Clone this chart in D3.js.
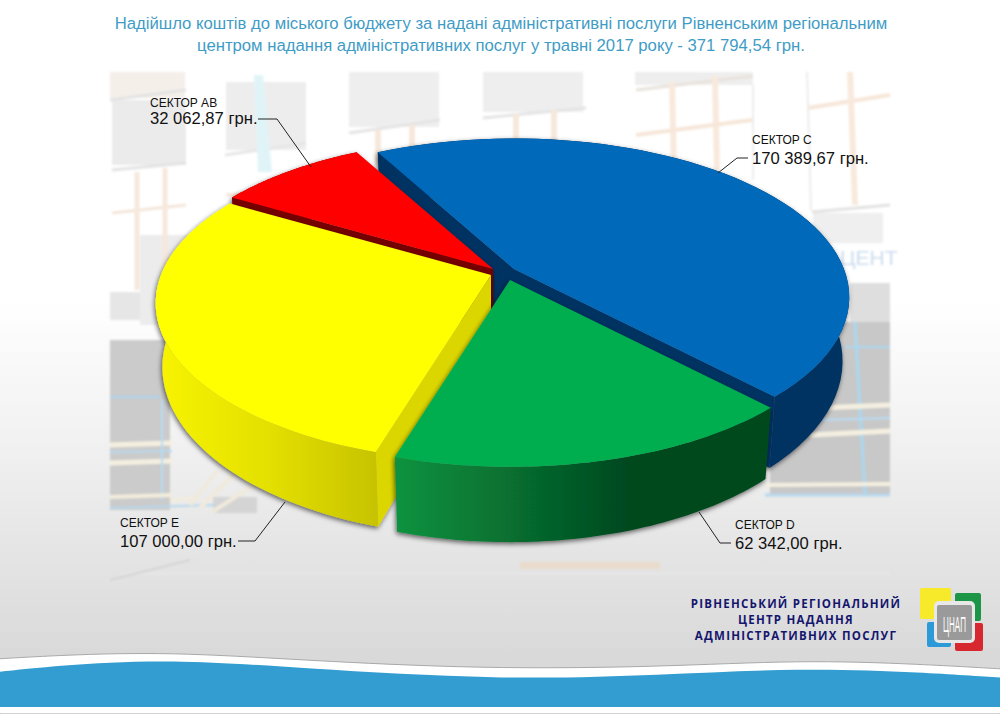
<!DOCTYPE html>
<html>
<head>
<meta charset="utf-8">
<script src="https://cdnjs.cloudflare.com/ajax/libs/d3/7.8.5/d3.min.js"></script>
<style>
  html, body { margin: 0; padding: 0; background: #fff; }
  svg { display: block; font-family: "Liberation Sans", Arial, sans-serif; }
</style>
</head>
<body>
<div id="chart"></div>
<script>
// chart values, clockwise from the back of the pie
var sectors = ["СЕКТОР C", "СЕКТОР D", "СЕКТОР E", "СЕКТОР AB"];
var amounts = [170389.67, 62342.00, 107000.00, 32062.87];
var amountLabels = ["170 389,67 грн.", "62 342,00 грн.", "107 000,00 грн.", "32 062,87 грн."];
var titleLines = [
  "Надійшло коштів до міського бюджету за надані адміністративні послуги Рівненським регіональним",
  "центром надання адміністративних послуг у травні 2017 року - 371 794,54 грн."
];
var orgLines = ["РІВНЕНСЬКИЙ РЕГІОНАЛЬНИЙ", "ЦЕНТР НАДАННЯ", "АДМІНІСТРАТИВНИХ ПОСЛУГ"];

var svgWidth = 1000;
var svgHeight = 714;

// look of each slice, same order as sectors
var topColors = ["#0069b9", "#00ae50", "#ffff00", "#ff0000"];
var wallColors = ["#003262", "#03481f", "#dcd600", "#760000"];
var apexes = [[514, 269], [510, 280], [491, 275], [493, 269]];
var drawOrder = [0, 3, 2, 1];

// where each label sits: [text x, name baseline, value baseline] and leader line
var labelPos = [[752, 144, 164], [735, 529, 549], [120, 527, 547], [150, 107, 124]];
var leaders = [
  [[748, 158], [737, 158], [718, 173]],
  [[731, 543], [720, 543], [699, 512]],
  [[238, 541], [255, 541], [285, 502]],
  [[258, 119], [277, 119], [311, 167]]
];

var svg = d3.select("#chart").append("svg")
  .attr("width", svgWidth)
  .attr("height", svgHeight);

var defs = svg.append("defs");

function addGradient(id, x1, y1, x2, y2, stops) {
  var g = defs.append("linearGradient").attr("id", id)
    .attr("gradientUnits", "userSpaceOnUse")
    .attr("x1", x1).attr("y1", y1).attr("x2", x2).attr("y2", y2);
  stops.forEach(function(s) {
    g.append("stop").attr("offset", s[0]).attr("stop-color", s[1]);
  });
}

addGradient("pageBg", 0, 0, 0, 714, [[0, "#ffffff"], [0.42, "#ffffff"], [0.62, "#f1f1f1"], [0.92, "#d9d9d9"]]);
addGradient("greenWall", 398, 0, 770, 0, [[0, "#0b923f"], [0.3, "#076f30"], [0.62, "#03481f"], [1, "#03491f"]]);
addGradient("yellowWall", 155, 0, 380, 0, [[0, "#f8f400"], [0.5, "#e4e000"], [1, "#c6c200"]]);

var shadow = defs.append("filter").attr("id", "pieShadow")
  .attr("x", "-10%").attr("y", "-10%").attr("width", "120%").attr("height", "120%");
shadow.append("feDropShadow")
  .attr("dx", -1).attr("dy", 2).attr("stdDeviation", 2.5)
  .attr("flood-color", "#000").attr("flood-opacity", 0.6);

var soft = defs.append("filter").attr("id", "soft");
soft.append("feGaussianBlur").attr("stdDeviation", 0.8);

// page
svg.append("rect").attr("width", svgWidth).attr("height", svgHeight).attr("fill", "url(#pageBg)");

// faded photo of the building behind the pie
var photo = svg.append("g").attr("filter", "url(#soft)");

var panes = [
  [110, 72, 75, 26, "#f4efe9"], [112, 100, 74, 65, "#ebebeb"], [226, 82, 80, 68, "#ededed"],
  [349, 72, 90, 55, "#eeeeee"], [483, 72, 100, 40, "#eeeeee"], [635, 72, 118, 13, "#eeeeee"],
  [813, 213, 70, 30, "#efefef"], [850, 283, 40, 40, "#dedede"], [110, 292, 32, 28, "#e6e6e6"],
  [140, 235, 60, 90, "#ececec"], [110, 340, 60, 170, "#cbcbcb"], [770, 322, 120, 173, "#c8c8c8"],
  [213, 497, 44, 16, "#d4d4d4"], [120, 535, 770, 6, "#e6e6e6"], [300, 552, 590, 5, "#e4e4e4"],
  [520, 562, 140, 7, "#eadcCc"], [120, 572, 770, 3, "#e6e6e6"]
];
photo.selectAll("rect.pane").data(panes).enter().append("rect")
  .attr("class", "pane")
  .attr("x", function(d) { return d[0]; })
  .attr("y", function(d) { return d[1]; })
  .attr("width", function(d) { return d[2]; })
  .attr("height", function(d) { return d[3]; })
  .attr("fill", function(d) { return d[4]; });

var frames = [
  // first column of windows
  [110, 100, 186, 90, "#e3e3e3", 3], [112, 170, 186, 163, "#e3e3e3", 3], [112, 213, 186, 205, "#f4e6da", 3],
  [137, 172, 137, 290, "#f6e8dc", 5], [165, 168, 165, 290, "#f6e8dc", 5],
  // second and third
  [225, 155, 306, 143, "#e6e6e6", 3], [226, 195, 306, 188, "#f4e6da", 3], [349, 133, 440, 120, "#e4e4e4", 3],
  [378, 130, 378, 165, "#f6e8dc", 6], [412, 125, 412, 165, "#f6e8dc", 6],
  // fourth
  [483, 118, 586, 108, "#e4e4e4", 3], [516, 114, 516, 150, "#f6e8dc", 6], [554, 110, 554, 145, "#f6e8dc", 6],
  // fifth and sixth
  [636, 90, 753, 76, "#e8e2dc", 3], [672, 82, 674, 170, "#f8e9dc", 6], [715, 76, 717, 170, "#f8e9dc", 6],
  [636, 135, 752, 120, "#f6e6d8", 4], [808, 108, 890, 95, "#f6e6d8", 4], [850, 72, 855, 205, "#f8e9dc", 6],
  [812, 212, 890, 205, "#e2e2e2", 3], [807, 72, 811, 210, "#ececec", 2], [753, 85, 753, 180, "#ececec", 2],
  // bottom left, rails and stairs
  [110, 397, 160, 397, "#a9d3ec", 2], [110, 445, 172, 443, "#f4efe0", 5], [110, 463, 172, 461, "#f4efe0", 5],
  [110, 452, 172, 451, "#b8d8ec", 2], [162, 400, 162, 500, "#b6dcf2", 2], [110, 497, 172, 495, "#f2ecdc", 4],
  [110, 508, 215, 505, "#b8d8ec", 2], [170, 500, 200, 498, "#f2ecdc", 3], [190, 505, 218, 470, "#f0eadc", 4],
  [200, 508, 240, 468, "#f0eadc", 4], [212, 512, 262, 480, "#f0eadc", 4], [110, 580, 190, 560, "#d4d4d4", 2],
  // bottom right
  [855, 322, 865, 495, "#a8d8f0", 3], [845, 347, 890, 347, "#a8d8f0", 2], [820, 408, 890, 405, "#f4efe0", 5],
  [820, 420, 890, 418, "#b6dcf2", 2], [810, 435, 890, 431, "#f4efe0", 5], [765, 485, 890, 484, "#f4efe0", 4],
  [765, 495, 890, 495, "#b8d8ec", 3]
];
photo.selectAll("line.frame").data(frames).enter().append("line")
  .attr("class", "frame")
  .attr("x1", function(d) { return d[0]; })
  .attr("y1", function(d) { return d[1]; })
  .attr("x2", function(d) { return d[2]; })
  .attr("y2", function(d) { return d[3]; })
  .attr("stroke", function(d) { return d[4]; })
  .attr("stroke-width", function(d) { return d[5]; });

photo.append("path")
  .attr("d", "M254 75 L263 75 L272 172 L258 172 Z")
  .attr("fill", "#e0f4f8");
photo.append("text")
  .attr("x", 840).attr("y", 265)
  .attr("font-size", 21).attr("fill", "#cbdcee")
  .text("ЦЕНТ");

// pie, drawn with a small perspective so the front looks bigger than the back
var radius = 335;
var radiusY = 156;
var tilt = 0.18;
var depth = 62;
var degrees = Math.PI / 180;

var pie = d3.pie().sort(null)
  .startAngle(-28.5 * degrees)
  .endAngle(331.5 * degrees);
var slices = pie(amounts);

function project(i, angle, r, bottom) {
  var u = r * Math.sin(angle);
  var v = -r * Math.cos(angle);
  var s = 1 / (1 - tilt * v);
  var apex = apexes[i];
  return [
    apex[0] + radius * u * s * (bottom ? 0.98 : 1),
    apex[1] + radiusY * v * s + (bottom ? depth * s : 0)
  ];
}

var line = d3.line();

function arcPoints(i, from, to, bottom) {
  return d3.range(0, 61).map(function(k) {
    return project(i, from + (to - from) * k / 60, 0.985, bottom);
  });
}

var sliceGroups = svg.append("g").selectAll("g")
  .data(drawOrder)
  .enter().append("g")
  .attr("filter", "url(#pieShadow)")
  .each(function(i) {
    var g = d3.select(this);
    var d = slices[i];
    var wallFill = i == 1 ? "url(#greenWall)" : i == 2 ? "url(#yellowWall)" : wallColors[i];

    // rim of the slice
    var rim = arcPoints(i, d.startAngle, d.endAngle, false)
      .concat(arcPoints(i, d.endAngle, d.startAngle, true));
    g.append("path").attr("d", line(rim) + "Z").attr("fill", wallFill);

    // cut faces, only the ones turned to the viewer
    [[d.startAngle, Math.sin(d.startAngle) < 0], [d.endAngle, Math.sin(d.endAngle) > 0]].forEach(function(f) {
      if (!f[1]) return;
      var face = [
        project(i, f[0], 0, false),
        project(i, f[0], 0.985, false),
        project(i, f[0], 0.985, true),
        project(i, f[0], 0, true)
      ];
      g.append("path").attr("d", line(face) + "Z").attr("fill", wallColors[i]);
    });

    // top
    var top = [project(i, 0, 0, false)].concat(arcPoints(i, d.startAngle, d.endAngle, false));
    g.append("path").attr("d", line(top) + "Z").attr("fill", topColors[i]);
  });

// labels
var labels = svg.append("g").selectAll("g")
  .data(sectors)
  .enter().append("g");

labels.append("path")
  .attr("d", function(d, i) { return line(leaders[i]); })
  .attr("fill", "none")
  .attr("stroke", "#222")
  .attr("stroke-width", 1);

labels.append("text")
  .attr("x", function(d, i) { return labelPos[i][0]; })
  .attr("y", function(d, i) { return labelPos[i][1]; })
  .attr("font-size", 12)
  .attr("fill", "#111")
  .text(function(d) { return d; });

labels.append("text")
  .attr("x", function(d, i) { return labelPos[i][0]; })
  .attr("y", function(d, i) { return labelPos[i][2]; })
  .attr("font-size", 16.6)
  .attr("fill", "#111")
  .text(function(d, i) { return amountLabels[i]; });

// title
svg.append("g").selectAll("text")
  .data(titleLines)
  .enter().append("text")
  .attr("x", 501)
  .attr("y", function(d, i) { return 29 + i * 21.5; })
  .attr("text-anchor", "middle")
  .attr("font-size", 16.7)
  .attr("fill", "#3f9cc6")
  .text(function(d) { return d; });

// wave at the bottom
var curve = d3.line().curve(d3.curveBasis);
svg.append("path")
  .attr("d", curve([[-20, 660], [60, 655], [170, 652], [300, 660], [480, 669], [660, 667], [800, 660], [920, 664], [1020, 670]]) + "L1000 714L0 714Z")
  .attr("fill", "#fff")
  .attr("stroke", "#a9a9a9")
  .attr("stroke-width", 1);
svg.append("path")
  .attr("d", curve([[-20, 674], [60, 665], [170, 659], [300, 668], [500, 680], [660, 675], [800, 668], [920, 672], [1020, 679]]) + "L1000 707L0 707Z")
  .attr("fill", "#339dd1");

// logo and the name of the centre
svg.append("g").selectAll("text")
  .data(orgLines)
  .enter().append("text")
  .attr("x", 796)
  .attr("y", function(d, i) { return 608 + i * 16; })
  .attr("text-anchor", "middle")
  .attr("font-family", "'Open Sans', sans-serif")
  .attr("font-weight", 700)
  .attr("font-size", 11.5)
  .attr("letter-spacing", 1.25)
  .attr("fill", "#14166e")
  .text(function(d) { return d; });

var logoTiles = [
  [920, 588, 31, 31, "#f7ea2b"], [955, 593, 26, 28, "#1c9547"],
  [927, 622, 24, 25, "#2b9ad6"], [955, 623, 28, 28, "#d8282f"]
];
svg.append("g").selectAll("rect")
  .data(logoTiles)
  .enter().append("rect")
  .attr("x", function(d) { return d[0]; })
  .attr("y", function(d) { return d[1]; })
  .attr("width", function(d) { return d[2]; })
  .attr("height", function(d) { return d[3]; })
  .attr("rx", 2)
  .attr("fill", function(d) { return d[4]; });
svg.append("rect").attr("x", 934).attr("y", 601).attr("width", 41).attr("height", 42)
  .attr("rx", 5).attr("fill", "#e8e8e8");
svg.append("rect").attr("x", 937).attr("y", 605).attr("width", 35).attr("height", 35)
  .attr("rx", 2).attr("fill", "#9a9a9a");
svg.append("text")
  .attr("transform", "translate(954.5,632) scale(0.62,1.7)")
  .attr("text-anchor", "middle")
  .attr("font-size", 13)
  .attr("fill", "#fff")
  .text("ЦНАП");
</script>
</body>
</html>
